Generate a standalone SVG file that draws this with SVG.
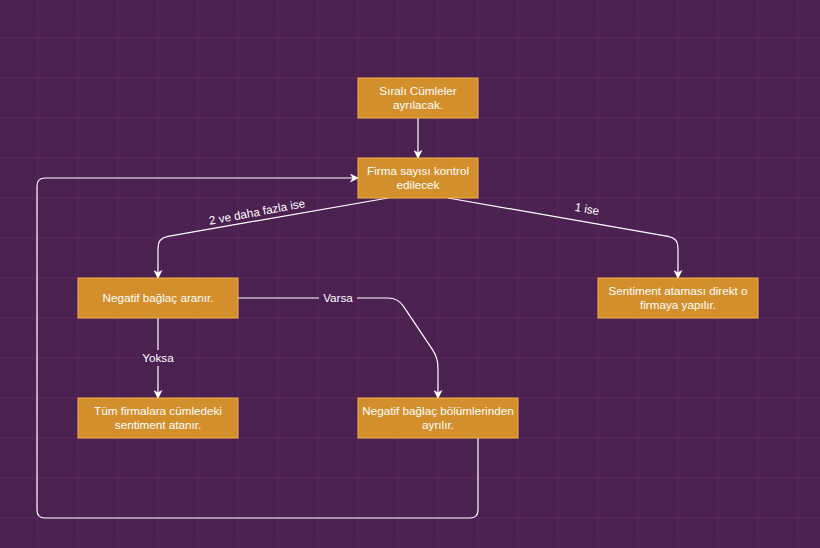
<svg xmlns="http://www.w3.org/2000/svg" width="820" height="548" viewBox="0 0 820 548">
  <defs>
    <pattern id="minor" x="7.5" y="7.5" width="10" height="10" patternUnits="userSpaceOnUse">
      <path d="M0,0 H10 M0,0 V10" fill="none" stroke="#52234f" stroke-width="1"/>
    </pattern>
    <pattern id="major" x="37.5" y="37.5" width="40" height="40" patternUnits="userSpaceOnUse">
      <path d="M0,0 H40 M0,0 V40" fill="none" stroke="#672b64" stroke-width="1"/>
    </pattern>
    <marker id="arrow" viewBox="0 0 10 10" refX="9" refY="5" markerWidth="9" markerHeight="9" markerUnits="userSpaceOnUse" orient="auto">
      <path d="M0,0 L10,5 L0,10 L3,5 Z" fill="#ffffff"/>
    </marker>
    <style>
      .box { fill: #d38f2b; stroke: #f2b14f; stroke-width: 1; }
      .txt { font-family: "Liberation Sans", Arial, sans-serif; font-size: 11.7px; fill: #ffffff; text-anchor: middle; }
      .edge { fill: none; stroke: #ffffff; stroke-width: 1.2; }
      .lblbg { fill: #4a2150; }
    </style>
  </defs>

  <!-- canvas with grid -->
  <rect width="820" height="548" fill="#4a2150"/>
  <rect width="820" height="548" fill="url(#minor)"/>
  <rect width="820" height="548" fill="url(#major)"/>

  <!-- connectors -->
  <g id="connectors">
    <path class="edge" d="M418,118 L418,158" marker-end="url(#arrow)"/>
    <path class="edge" d="M388,198 L167.9,236.3 Q158,238 158,248 L158,278" marker-end="url(#arrow)"/>
    <path class="edge" d="M448,198 L668.1,236.3 Q678,238 678,248 L678,278" marker-end="url(#arrow)"/>
    <path class="edge" d="M238,298 L388,298 Q398,298 403.5,306.3 L432.5,349.7 Q438,358 438,368 L438,398" marker-end="url(#arrow)"/>
    <path class="edge" d="M158,318 L158,398" marker-end="url(#arrow)"/>
    <path class="edge" d="M478,438 L478,510 Q478,518 470,518 L45,518 Q37,518 37,510 L37,186 Q37,178 45,178 L358,178" marker-end="url(#arrow)"/>

    <text class="txt" transform="translate(257,212) rotate(-10.5)" y="4">2 ve daha fazla ise</text>
    <text class="txt" transform="translate(587,209) rotate(10)" y="4">1 ise</text>

    <rect class="lblbg" x="319" y="290" width="38" height="16"/>
    <text class="txt" x="338" y="302">Varsa</text>
    <rect class="lblbg" x="140" y="350" width="36" height="16"/>
    <text class="txt" x="158" y="362">Yoksa</text>
  </g>

  <!-- nodes -->
  <g id="node-split-sentences">
    <rect class="box" x="358" y="78" width="120" height="40"/>
    <text class="txt" x="418" y="95">Sıralı Cümleler</text>
    <text class="txt" x="418" y="109">ayrılacak.</text>
  </g>
  <g id="node-count-firms">
    <rect class="box" x="358" y="158" width="120" height="40"/>
    <text class="txt" x="418" y="175">Firma sayısı kontrol</text>
    <text class="txt" x="418" y="189">edilecek</text>
  </g>
  <g id="node-search-conjunction">
    <rect class="box" x="78" y="278" width="160" height="40"/>
    <text class="txt" x="158" y="302">Negatif bağlaç aranır.</text>
  </g>
  <g id="node-direct-sentiment">
    <rect class="box" x="598" y="278" width="160" height="40"/>
    <text class="txt" x="678" y="295">Sentiment ataması direkt o</text>
    <text class="txt" x="678" y="309">firmaya yapılır.</text>
  </g>
  <g id="node-assign-all">
    <rect class="box" x="78" y="398" width="160" height="40"/>
    <text class="txt" x="158" y="415">Tüm firmalara cümledeki</text>
    <text class="txt" x="158" y="429">sentiment atanır.</text>
  </g>
  <g id="node-split-parts">
    <rect class="box" x="358" y="398" width="160" height="40"/>
    <text class="txt" x="438" y="415">Negatif bağlaç bölümlerinden</text>
    <text class="txt" x="438" y="429">ayrılır.</text>
  </g>
</svg>
